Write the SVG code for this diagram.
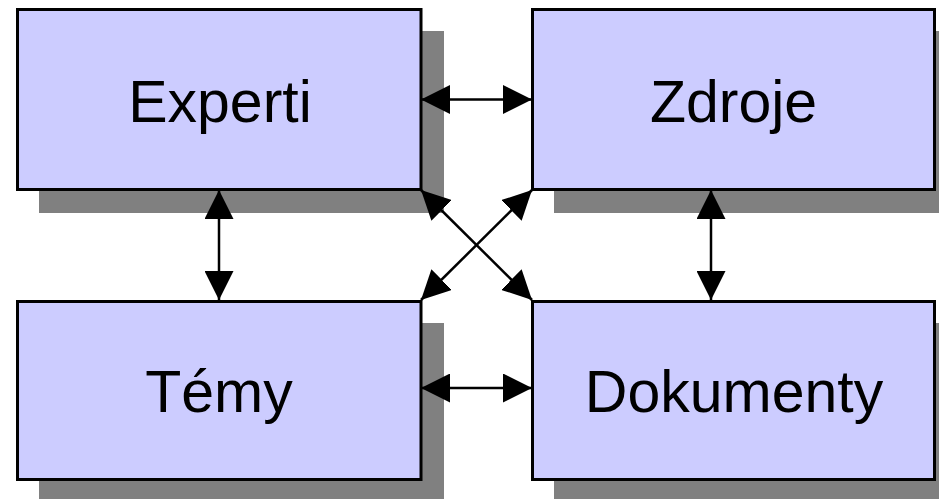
<svg xmlns="http://www.w3.org/2000/svg" width="939" height="499" viewBox="0 0 939 499">
<style>
.sh{fill:#808080}
.box{fill:#CCCCFF;stroke:#000;stroke-width:3}
.lbl{font-family:"Liberation Sans",Arial,sans-serif;font-size:59px;fill:#000;text-anchor:middle}
.con{stroke:#000;stroke-width:2.5;fill:none;marker-start:url(#ah);marker-end:url(#ah)}
</style>
<defs>
<marker id="ah" viewBox="0 0 29 29" refX="29" refY="14.5" markerWidth="29" markerHeight="29" markerUnits="userSpaceOnUse" orient="auto-start-reverse">
<path d="M0,0 L29,14.5 L0,29 Z" fill="#000"/>
</marker>
</defs>
<g id="experti">
<rect class="sh" x="39" y="31" width="405" height="182"/>
<rect class="box" x="17.5" y="9.5" width="403.5" height="180"/>
<text class="lbl" x="220" y="122">Experti</text>
</g>
<g id="zdroje">
<rect class="sh" x="554" y="31" width="405" height="182"/>
<rect class="box" x="532.5" y="9.5" width="402" height="180"/>
<text class="lbl" x="733.5" y="122">Zdroje</text>
</g>
<g id="temy">
<rect class="sh" x="39" y="323" width="405" height="182"/>
<rect class="box" x="17.5" y="301.5" width="403.5" height="178"/>
<text class="lbl" x="219" y="412">Témy</text>
</g>
<g id="dokumenty">
<rect class="sh" x="554" y="323" width="405" height="182"/>
<rect class="box" x="532.5" y="301.5" width="402" height="178"/>
<text class="lbl" x="734" y="412">Dokumenty</text>
</g>
<g id="connectors">
<line class="con" x1="421" y1="99.5" x2="532" y2="99.5"/>
<line class="con" x1="421" y1="388" x2="532" y2="388"/>
<line class="con" x1="219" y1="190" x2="219" y2="300"/>
<line class="con" x1="711" y1="190" x2="711" y2="300"/>
<line class="con" x1="421" y1="190" x2="532" y2="300"/>
<line class="con" x1="532" y1="190" x2="421" y2="300"/>
</g>
</svg>
